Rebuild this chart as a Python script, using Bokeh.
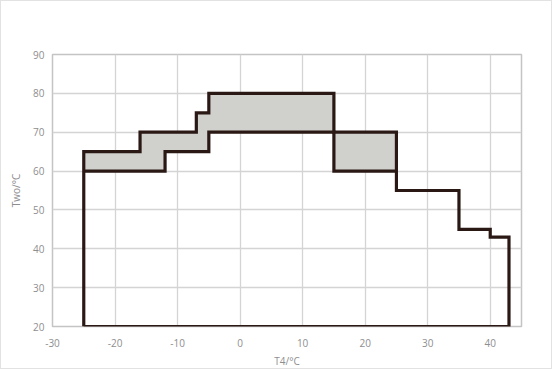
from bokeh.plotting import figure
from bokeh.embed import file_html
from bokeh.resources import INLINE
from bokeh.models import FixedTicker, Range1d, NumeralTickFormatter

# Upper limit (step): edges along T4 and water temperature for each segment
upper_edges = [-25, -16, -7, -5, 15, 25, 35, 40, 43]
upper_temps = [65, 70, 75, 80, 70, 55, 45, 43]
# Lower limit of the shaded band
lower_edges = [-25, -12, -5, 15, 25]
lower_temps = [60, 65, 70, 60]
# Minimum water temperature
base_temp = 20

x_ticks = [-30, -20, -10, 0, 10, 20, 30, 40]
y_ticks = [20, 30, 40, 50, 60, 70, 80, 90]


def step_pts(edges, temps):
    xs, ys = [], []
    for i, t in enumerate(temps):
        xs += [edges[i], edges[i + 1]]
        ys += [t, t]
    return xs, ys


ux, uy = step_pts(upper_edges, upper_temps)
lx, ly = step_pts(lower_edges, lower_temps)

band_end = lower_edges[-1]
bx = [x for x in ux if x <= band_end]
by = [y for x, y in zip(ux, uy) if x <= band_end]
band_x = bx + lx[::-1]
band_y = by + ly[::-1]

out_x = [upper_edges[0]] + ux + [upper_edges[-1], upper_edges[0]]
out_y = [base_temp] + uy + [base_temp, base_temp]

p = figure(width=552, height=369, output_backend="svg", toolbar_location=None,
           x_range=Range1d(-30, 45), y_range=Range1d(20, 90),
           min_border_left=51, min_border_right=32, min_border_top=53,
           min_border_bottom=43)
p.styles = {"border": "1px solid #e2e2e2"}

p.patch(band_x, band_y, fill_color="#d0d0cc", line_color=None)
p.line(out_x, out_y, line_color="#2a1815", line_width=3.2, line_join="miter")
p.line(lx, ly, line_color="#2a1815", line_width=3.2, line_join="miter")

for ax in (p.xaxis[0], p.yaxis[0]):
    ax.axis_line_color = None
    ax.major_tick_line_color = None
    ax.minor_tick_line_color = None
    ax.major_label_text_color = "#8e8e8e"
    ax.major_label_text_font = "Open Sans"
    ax.major_label_text_font_size = "10px"
    ax.axis_label_text_color = "#8e8e8e"
    ax.axis_label_text_font = "Open Sans"
    ax.axis_label_text_font_size = "10px"
    ax.axis_label_text_font_style = "normal"

p.xaxis.ticker = FixedTicker(ticks=x_ticks)
p.yaxis.ticker = FixedTicker(ticks=y_ticks)
p.xaxis.formatter = NumeralTickFormatter(format="0")
p.xaxis.axis_label = "T4/°C"
p.yaxis.axis_label = "Two/°C"
p.xaxis.major_label_standoff = 6
p.yaxis.major_label_standoff = 2
p.xaxis.axis_label_standoff = 4
p.yaxis.axis_label_standoff = 7

p.xgrid.grid_line_color = "#d4d4d4"
p.ygrid.grid_line_color = "#d4d4d4"
p.xgrid.grid_line_width = 1.3
p.ygrid.grid_line_width = 1.3
p.outline_line_color = "#c4c4c4"
p.outline_line_width = 1.5

open("out.html", "w").write(file_html(p, INLINE))
